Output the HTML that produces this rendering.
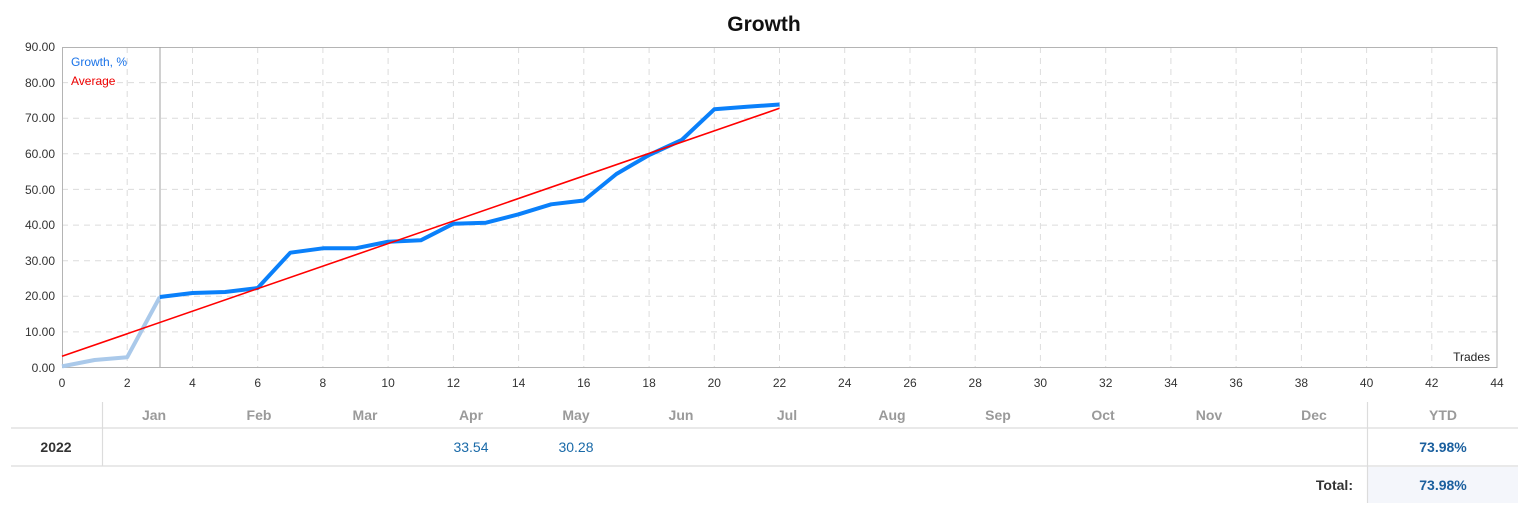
<!DOCTYPE html>
<html><head><meta charset="utf-8"><style>
html,body{margin:0;padding:0;background:#fff;}
body{width:1527px;height:518px;overflow:hidden;position:relative;font-family:"Liberation Sans","DejaVu Sans",sans-serif;}
svg{position:absolute;left:0;top:0;}
</style></head><body>
<svg width="1527" height="518" viewBox="0 0 1527 518" xmlns="http://www.w3.org/2000/svg" font-family="Liberation Sans, DejaVu Sans, sans-serif">
<text x="764" y="31" text-anchor="middle" font-size="21" font-weight="bold" fill="#111">Growth</text>
<!-- grid -->
<g stroke="#dcdcdc" stroke-width="1" stroke-dasharray="6,5">
<line x1="62" y1="82.6" x2="1497" y2="82.6"/>
<line x1="62" y1="118.2" x2="1497" y2="118.2"/>
<line x1="62" y1="153.8" x2="1497" y2="153.8"/>
<line x1="62" y1="189.4" x2="1497" y2="189.4"/>
<line x1="62" y1="225.1" x2="1497" y2="225.1"/>
<line x1="62" y1="260.7" x2="1497" y2="260.7"/>
<line x1="62" y1="296.3" x2="1497" y2="296.3"/>
<line x1="62" y1="331.9" x2="1497" y2="331.9"/>
<line x1="127.2" y1="47" x2="127.2" y2="367"/>
<line x1="192.5" y1="47" x2="192.5" y2="367"/>
<line x1="257.7" y1="47" x2="257.7" y2="367"/>
<line x1="322.9" y1="47" x2="322.9" y2="367"/>
<line x1="388.1" y1="47" x2="388.1" y2="367"/>
<line x1="453.4" y1="47" x2="453.4" y2="367"/>
<line x1="518.6" y1="47" x2="518.6" y2="367"/>
<line x1="583.8" y1="47" x2="583.8" y2="367"/>
<line x1="649.1" y1="47" x2="649.1" y2="367"/>
<line x1="714.3" y1="47" x2="714.3" y2="367"/>
<line x1="779.5" y1="47" x2="779.5" y2="367"/>
<line x1="844.7" y1="47" x2="844.7" y2="367"/>
<line x1="910" y1="47" x2="910" y2="367"/>
<line x1="975.2" y1="47" x2="975.2" y2="367"/>
<line x1="1040.4" y1="47" x2="1040.4" y2="367"/>
<line x1="1105.7" y1="47" x2="1105.7" y2="367"/>
<line x1="1170.9" y1="47" x2="1170.9" y2="367"/>
<line x1="1236.1" y1="47" x2="1236.1" y2="367"/>
<line x1="1301.4" y1="47" x2="1301.4" y2="367"/>
<line x1="1366.6" y1="47" x2="1366.6" y2="367"/>
<line x1="1431.8" y1="47" x2="1431.8" y2="367"/>
</g>
<rect x="62.5" y="47.5" width="1434.5" height="320" fill="none" stroke="#b4b4b4" stroke-width="1"/>
<line x1="160" y1="47" x2="160" y2="367" stroke="#a0a0a0" stroke-width="1"/>
<!-- series -->
<polyline fill="none" stroke="#aac9ea" stroke-width="4" stroke-linejoin="round" points="62,366.4 94.6,360 127.2,357.2 159.8,297"/>
<polyline fill="none" stroke="#0a80fa" stroke-width="4" stroke-linejoin="round" points="159.8,297 192.5,293 225.1,292 257.7,288 290.3,252.7 322.9,248.3 355.5,248.3 388.1,241.7 420.8,240.3 453.4,223.7 486,222.7 518.6,214.3 551.2,204.3 583.8,200.5 616.4,174 649.1,155 681.7,140 714.3,109.3 746.9,106.8 779.5,104.5"/>
<line x1="62" y1="356.3" x2="779.5" y2="108.3" stroke="#ff0000" stroke-width="1.6"/>
<!-- legend -->
<text x="71" y="66" font-size="12" fill="#1a73e8">Growth, %</text>
<text x="71" y="85" font-size="12" fill="#ee0000">Average</text>
<text x="1490" y="361" font-size="12" fill="#222" text-anchor="end">Trades</text>
<!-- y labels -->
<g font-size="12" fill="#333" text-anchor="end">
<text x="55" y="51">90.00</text>
<text x="55" y="87">80.00</text>
<text x="55" y="122">70.00</text>
<text x="55" y="158">60.00</text>
<text x="55" y="194">50.00</text>
<text x="55" y="229">40.00</text>
<text x="55" y="265">30.00</text>
<text x="55" y="300">20.00</text>
<text x="55" y="336">10.00</text>
<text x="55" y="372">0.00</text>
</g>
<!-- x labels -->
<g font-size="12" fill="#333" text-anchor="middle">
<text x="62" y="387">0</text>
<text x="127.2" y="387">2</text>
<text x="192.5" y="387">4</text>
<text x="257.7" y="387">6</text>
<text x="322.9" y="387">8</text>
<text x="388.1" y="387">10</text>
<text x="453.4" y="387">12</text>
<text x="518.6" y="387">14</text>
<text x="583.8" y="387">16</text>
<text x="649.1" y="387">18</text>
<text x="714.3" y="387">20</text>
<text x="779.5" y="387">22</text>
<text x="844.7" y="387">24</text>
<text x="910" y="387">26</text>
<text x="975.2" y="387">28</text>
<text x="1040.4" y="387">30</text>
<text x="1105.7" y="387">32</text>
<text x="1170.9" y="387">34</text>
<text x="1236.1" y="387">36</text>
<text x="1301.4" y="387">38</text>
<text x="1366.6" y="387">40</text>
<text x="1431.8" y="387">42</text>
<text x="1497" y="387">44</text>
</g>
<!-- table -->
<rect x="1368" y="467" width="150" height="36" fill="#f4f6fb"/>
<line x1="11" y1="428" x2="1518" y2="428" stroke="#dcdcdc" stroke-width="1.2"/>
<line x1="11" y1="466" x2="1518" y2="466" stroke="#dcdcdc" stroke-width="1.2"/>
<line x1="102.5" y1="402" x2="102.5" y2="466" stroke="#dcdcdc" stroke-width="1.2"/>
<line x1="1367.5" y1="402" x2="1367.5" y2="503" stroke="#dcdcdc" stroke-width="1.2"/>
<g font-size="14" font-weight="bold" fill="#9a9a9a" text-anchor="middle">
<text x="154" y="420">Jan</text>
<text x="259" y="420">Feb</text>
<text x="365" y="420">Mar</text>
<text x="471" y="420">Apr</text>
<text x="576" y="420">May</text>
<text x="681" y="420">Jun</text>
<text x="787" y="420">Jul</text>
<text x="892" y="420">Aug</text>
<text x="998" y="420">Sep</text>
<text x="1103" y="420">Oct</text>
<text x="1209" y="420">Nov</text>
<text x="1314" y="420">Dec</text>
<text x="1443" y="420">YTD</text>
</g>
<text x="56" y="452" font-size="14" font-weight="bold" fill="#333" text-anchor="middle">2022</text>
<text x="471" y="452" font-size="14" fill="#1a6aa8" text-anchor="middle">33.54</text>
<text x="576" y="452" font-size="14" fill="#1a6aa8" text-anchor="middle">30.28</text>
<text x="1443" y="452" font-size="14" font-weight="bold" fill="#1a5f9e" text-anchor="middle">73.98%</text>
<text x="1353" y="490" font-size="14" font-weight="bold" fill="#333" text-anchor="end">Total:</text>
<text x="1443" y="490" font-size="14" font-weight="bold" fill="#1a5f9e" text-anchor="middle">73.98%</text>
</svg>
</body></html>
